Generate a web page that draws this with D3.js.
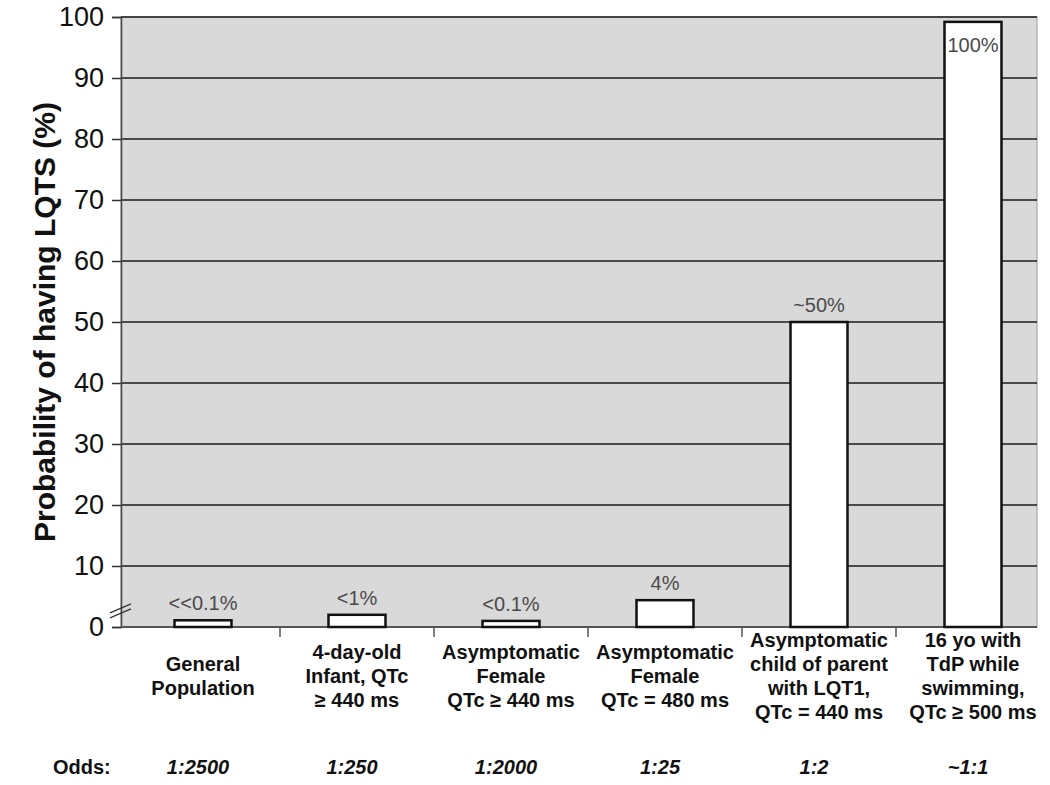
<!DOCTYPE html>
<html>
<head>
<meta charset="utf-8">
<script src="https://cdn.jsdelivr.net/npm/d3@7"></script>
<style>
  body { margin: 0; background: #fff; }
  svg { display: block; font-family: "Liberation Sans", Arial, sans-serif; }
</style>
</head>
<body>
<div id="chart"></div>
<script>
const categories = [
  ["General", "Population"],
  ["4-day-old", "Infant, QTc", "\u2265 440 ms"],
  ["Asymptomatic", "Female", "QTc \u2265 440 ms"],
  ["Asymptomatic", "Female", "QTc = 480 ms"],
  ["Asymptomatic", "child of parent", "with LQT1,", "QTc = 440 ms"],
  ["16 yo with", "TdP while", "swimming,", "QTc \u2265 500 ms"]
];
const probabilities = [1.1, 2, 1, 4.4, 50, 99.2];
const valueLabels = ["<<0.1%", "<1%", "<0.1%", "4%", "~50%", "100%"];
const odds = ["1:2500", "1:250", "1:2000", "1:25", "1:2", "~1:1"];
const yTicks = [0, 10, 20, 30, 40, 50, 60, 70, 80, 90, 100];

const W = 1050, H = 785;
const PLOT = { LEFT: 121, RIGHT: 1037, TOP: 17, BOTTOM: 627 };

const svg = d3.select("#chart").append("svg")
  .attr("width", W)
  .attr("height", H)
  .style("background", "white");

const ids = categories.map((d, i) => i);

const x = d3.scaleBand()
  .domain(ids)
  .range([126, 1050])
  .paddingInner(0.63)
  .paddingOuter(0.315);

const y = d3.scaleLinear()
  .domain([0, 100])
  .range([PLOT.BOTTOM, PLOT.TOP]);

// plot background
svg.append("rect")
  .attr("x", PLOT.LEFT)
  .attr("y", PLOT.TOP)
  .attr("width", PLOT.RIGHT - PLOT.LEFT)
  .attr("height", PLOT.BOTTOM - PLOT.TOP)
  .attr("fill", "#d9d9d9")
  .attr("stroke", "#9a9a9a")
  .attr("stroke-width", 1);

// gridlines
svg.append("g")
  .selectAll("line")
  .data(yTicks.filter(d => d > 0))
  .join("line")
  .attr("x1", PLOT.LEFT)
  .attr("x2", PLOT.RIGHT)
  .attr("y1", d => y(d))
  .attr("y2", d => y(d))
  .attr("stroke", "#1a1a1a")
  .attr("stroke-width", 1.5);

// y axis
const yAxis = svg.append("g")
  .attr("transform", `translate(${PLOT.LEFT}, 0)`)
  .call(d3.axisLeft(y).tickValues(yTicks).tickSize(9).tickPadding(8).tickFormat(d3.format("d")));
yAxis.select(".domain").attr("stroke", "#444").attr("stroke-width", 1.5);
yAxis.selectAll(".tick line").attr("stroke", "#333").attr("stroke-width", 1.5);
yAxis.selectAll(".tick text")
  .attr("fill", "#111")
  .style("font-size", "27px")
  .style("font-family", "\"Liberation Sans\", Arial, sans-serif");

// axis break marks
const breakY = y(3.3);
[0, 5].forEach(off => {
  svg.append("line")
    .attr("x1", 110)
    .attr("y1", breakY + 6 + off)
    .attr("x2", 131)
    .attr("y2", breakY - 3 + off)
    .attr("stroke", "#333")
    .attr("stroke-width", 1.3);
});

// bottom axis line + category separators
svg.append("line")
  .attr("x1", PLOT.LEFT)
  .attr("x2", PLOT.RIGHT)
  .attr("y1", PLOT.BOTTOM)
  .attr("y2", PLOT.BOTTOM)
  .attr("stroke", "#555")
  .attr("stroke-width", 2);

svg.append("g")
  .selectAll("line")
  .data(ids.slice(1))
  .join("line")
  .attr("x1", d => x(d) - x.step() * x.paddingInner() / 2)
  .attr("x2", d => x(d) - x.step() * x.paddingInner() / 2)
  .attr("y1", PLOT.BOTTOM)
  .attr("y2", PLOT.BOTTOM + 10)
  .attr("stroke", "#555")
  .attr("stroke-width", 1.5);

// bars
svg.append("g")
  .selectAll("rect")
  .data(probabilities)
  .join("rect")
  .attr("x", (d, i) => x(i))
  .attr("y", d => y(d))
  .attr("width", x.bandwidth())
  .attr("height", d => y(0) - y(d))
  .attr("fill", "white")
  .attr("stroke", "#111")
  .attr("stroke-width", 2.5);

// value labels
svg.append("g")
  .selectAll("text")
  .data(probabilities)
  .join("text")
  .attr("x", (d, i) => x(i) + x.bandwidth() / 2)
  .attr("y", d => Math.max(y(d) - 10, 52))
  .attr("text-anchor", "middle")
  .attr("fill", "#4a4a4a")
  .style("font-size", "20px")
  .text((d, i) => valueLabels[i]);

// category labels
const catG = svg.append("g")
  .selectAll("text")
  .data(categories)
  .join("text")
  .attr("text-anchor", "middle")
  .attr("fill", "#111")
  .style("font-size", "20px")
  .style("font-weight", "bold");

catG.each(function (lines, i) {
  const cx = x(i) + x.bandwidth() / 2;
  const y0 = 683 - (lines.length - 1) * 24.3 / 2;
  d3.select(this).selectAll("tspan")
    .data(lines)
    .join("tspan")
    .attr("x", cx)
    .attr("y", (l, j) => y0 + j * 24.3)
    .text(l => l);
});

// odds row
svg.append("text")
  .attr("x", 53)
  .attr("y", 774)
  .attr("fill", "#111")
  .style("font-size", "20px")
  .style("font-weight", "bold")
  .text("Odds:");

svg.append("g")
  .selectAll("text")
  .data(odds)
  .join("text")
  .attr("x", (d, i) => x(i) + x.bandwidth() / 2 - 5)
  .attr("y", 774)
  .attr("text-anchor", "middle")
  .attr("fill", "#111")
  .style("font-size", "20px")
  .style("font-weight", "bold")
  .style("font-style", "italic")
  .text(d => d);

// y axis title
svg.append("text")
  .attr("transform", `translate(55, ${(PLOT.TOP + PLOT.BOTTOM) / 2}) rotate(-90)`)
  .attr("text-anchor", "middle")
  .attr("fill", "#111")
  .style("font-size", "30px")
  .style("font-weight", "bold")
  .text("Probability of having LQTS (%)");
</script>
</body>
</html>
